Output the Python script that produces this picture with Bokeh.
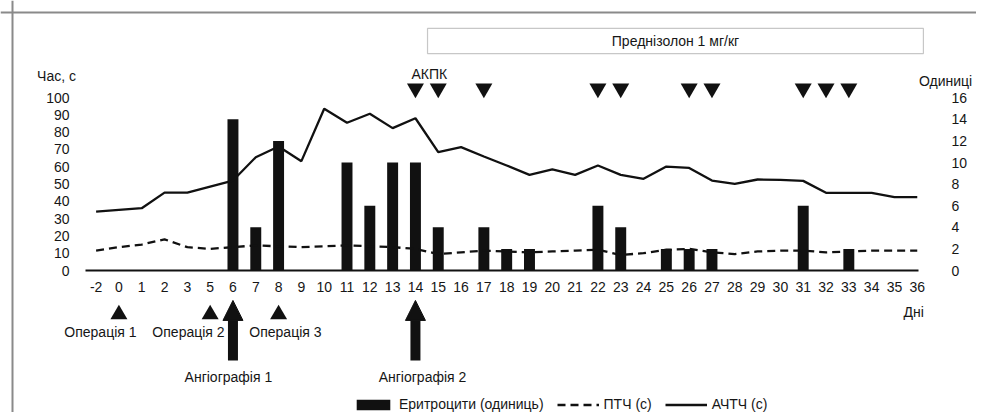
from bokeh.plotting import figure
from bokeh.models import (Range1d, LinearAxis, FixedTicker, Label, Span, BoxAnnotation,
                          Arrow, NormalHead, Legend, LegendItem, ColumnDataSource)
from bokeh.embed import file_html
from bokeh.resources import INLINE

# ---------------- data ----------------
days = ["-2", "0", "1", "2", "3", "5", "6", "7", "8", "9", "10", "11", "12", "13", "14", "15",
        "16", "17", "18", "19", "20", "21", "22", "23", "24", "25", "26", "27", "28", "29",
        "30", "31", "32", "33", "34", "35", "36"]
aptt = [34, 35, 36, 45, 45, 48.5, 52, 65.5, 71.7, 63.2, 93.5, 85.4, 90.6, 82.3, 88, 68.4,
        71.3, 65.9, 60.7, 55.3, 58.4, 55.3, 60.7, 55.3, 53, 60.1, 59.3, 52, 50.1, 52.6,
        52.4, 51.8, 44.9, 44.9, 44.9, 42.4, 42.4]
pt = [11.5, 13.5, 15, 18, 13.5, 12.5, 13.5, 14.5, 14, 13.5, 14, 14.5, 14, 13.5, 12.5, 9.5,
      10.5, 11.5, 11, 10.5, 11, 11.5, 12, 9, 10, 12, 12.5, 10.5, 9.5, 11, 11.5, 11.5, 10.5,
      11, 11.5, 11.5, 11.5]
rbc_days = ["6", "7", "8", "11", "12", "13", "14", "15", "17", "18", "19", "22", "23",
            "25", "26", "27", "31", "33"]
rbc_units = [14, 4, 12, 10, 6, 10, 10, 4, 4, 2, 2, 6, 4, 2, 2, 2, 6, 2]
left_ticks = list(range(0, 101, 10))
right_ticks = list(range(0, 17, 2))

akpk_days = ["14", "15", "17", "22", "23", "26", "27", "31", "32", "33"]
operation_days = ["0", "5", "8"]
operation_labels = ["Операція 1", "Операція 2", "Операція 3"]
operation_label_x = [0.19, 4.05, 8.30]
angio_days = ["6", "14"]
angio_labels = ["Ангіографія 1", "Ангіографія 2"]
angio_label_x = [5.80, 14.31]

# ---------------- layout constants ----------------
W, H = 976, 412
X0_PX, DX_PX = 95.6, 22.81        # pixel of index 0, px per category
Y0_PX, DY_PX = 270, 1.73          # pixel of value 0, px per second
UNIT_RATIO = 1.73 / 10.8          # units per second

xs = list(range(len(days)))
idx = {d: i for i, d in enumerate(days)}

x_start = -X0_PX / DX_PX
x_end = (W - X0_PX) / DX_PX
y_end = Y0_PX / DY_PX
y_start = -(H - Y0_PX) / DY_PX

FONT = "'Liberation Sans', Arial, sans-serif"
NUM_FONT = "'Liberation Sans Narrow', 'Liberation Sans', sans-serif"
TXT = "#161616"

p = figure(width=W, height=H, output_backend="svg", toolbar_location=None,
           x_range=Range1d(x_start, x_end), y_range=Range1d(y_start, y_end),
           min_border=0, x_axis_type=None, y_axis_type=None)
p.outline_line_color = None
p.xgrid.visible = False
p.ygrid.visible = False
p.extra_y_ranges = {"units": Range1d(y_start * UNIT_RATIO, y_end * UNIT_RATIO)}

# outer gray frame (top and left edges)
p.add_layout(Span(location=(Y0_PX - 12) / DY_PX, dimension="width", line_color="#8a8a8a", line_width=2))
p.add_layout(Span(location=(12 - X0_PX) / DX_PX, dimension="height", line_color="#8a8a8a", line_width=2))

# bars
bar_src = ColumnDataSource(dict(x=[idx[d] for d in rbc_days], top=rbc_units))
bars = p.vbar(x="x", top="top", bottom=0, width=0.48, source=bar_src, y_range_name="units",
              fill_color="#111111", line_color=None)

# lines
line_src = ColumnDataSource(dict(x=xs, aptt=aptt, pt=pt))
r_pt = p.line("x", "pt", source=line_src, line_color="#111111", line_width=2.3, line_dash="8 5")
r_aptt = p.line("x", "aptt", source=line_src, line_color="#111111", line_width=2.3)

# axes
xaxis = LinearAxis(ticker=FixedTicker(ticks=xs), fixed_location=0, bounds=(-0.45, 36.05))
xaxis.major_label_overrides = {i: d for i, d in enumerate(days)}
xaxis.axis_line_color = "#111111"
xaxis.axis_line_width = 2
xaxis.major_tick_line_color = None
xaxis.minor_tick_line_color = None
xaxis.major_label_standoff = 5
xaxis.major_label_text_font = NUM_FONT
xaxis.major_label_text_font_size = "14px"
xaxis.major_label_text_color = TXT
p.add_layout(xaxis, "below")

laxis = LinearAxis(ticker=FixedTicker(ticks=left_ticks), fixed_location=(80 - X0_PX) / DX_PX)
raxis = LinearAxis(ticker=FixedTicker(ticks=right_ticks), y_range_name="units",
                   fixed_location=(940 - X0_PX) / DX_PX)
for ax in (laxis, raxis):
    ax.axis_line_color = None
    ax.major_tick_line_color = None
    ax.minor_tick_line_color = None
    ax.major_label_standoff = 5
    ax.major_label_text_font = NUM_FONT
    ax.major_label_text_font_size = "14px"
    ax.major_label_text_color = TXT
p.add_layout(laxis, "left")
p.add_layout(raxis, "right")

def label(x, y, text, size="14px", align="center"):
    p.add_layout(Label(x=x, y=y, text=text, text_font=FONT, text_font_size=size,
                       text_color=TXT, text_align=align, text_baseline="middle"))

label(-1.736, 112.7, "Час, с")
label(37.24, 109.8, "Одиниці")
label(35.84, -23.7, "Дні")
label(14.61, 113.3, "АКПК")

# prednisolone box
p.add_layout(BoxAnnotation(left=14.53, right=36.27, top=139.9, bottom=125.4,
                           fill_color=None, line_color="#444444", line_width=1.2))
label(25.4, 132.4, "Преднізолон 1 мг/кг")

# markers
top_src = ColumnDataSource(dict(x=[idx[d] for d in akpk_days], y=[105.2] * len(akpk_days)))
p.scatter("x", "y", source=top_src, marker="inverted_triangle", size=17,
          fill_color="#111111", line_color=None)
op_src = ColumnDataSource(dict(x=[idx[d] for d in operation_days], y=[-25.4] * len(operation_days)))
p.scatter("x", "y", source=op_src, marker="triangle", size=17,
          fill_color="#111111", line_color=None)
for lx, t in zip(operation_label_x, operation_labels):
    label(lx, -35.8, t)

for d, lx, t in zip(angio_days, angio_label_x, angio_labels):
    p.add_layout(Arrow(x_start=idx[d], y_start=-52, x_end=idx[d], y_end=-17.3,
                       line_width=10, line_color="#111111",
                       end=NormalHead(size=20, fill_color="#111111", line_color="#111111")))
    label(lx, -61.8, t)

legend = Legend(items=[LegendItem(label="Еритроцити (одиниць)", renderers=[bars]),
                       LegendItem(label="ПТЧ (с)", renderers=[r_pt]),
                       LegendItem(label="АЧТЧ (с)", renderers=[r_aptt])],
                orientation="horizontal", location=(352, 0))
legend.border_line_color = None
legend.background_fill_alpha = 0
legend.padding = 0
legend.margin = 0
legend.spacing = 13
legend.glyph_width = 42
legend.glyph_height = 13
legend.label_standoff = 5
legend.label_text_font = FONT
legend.label_text_font_size = "14px"
legend.label_text_color = TXT
legend.label_height = 13
p.add_layout(legend)

open("out.html", "w").write(file_html(p, INLINE))
